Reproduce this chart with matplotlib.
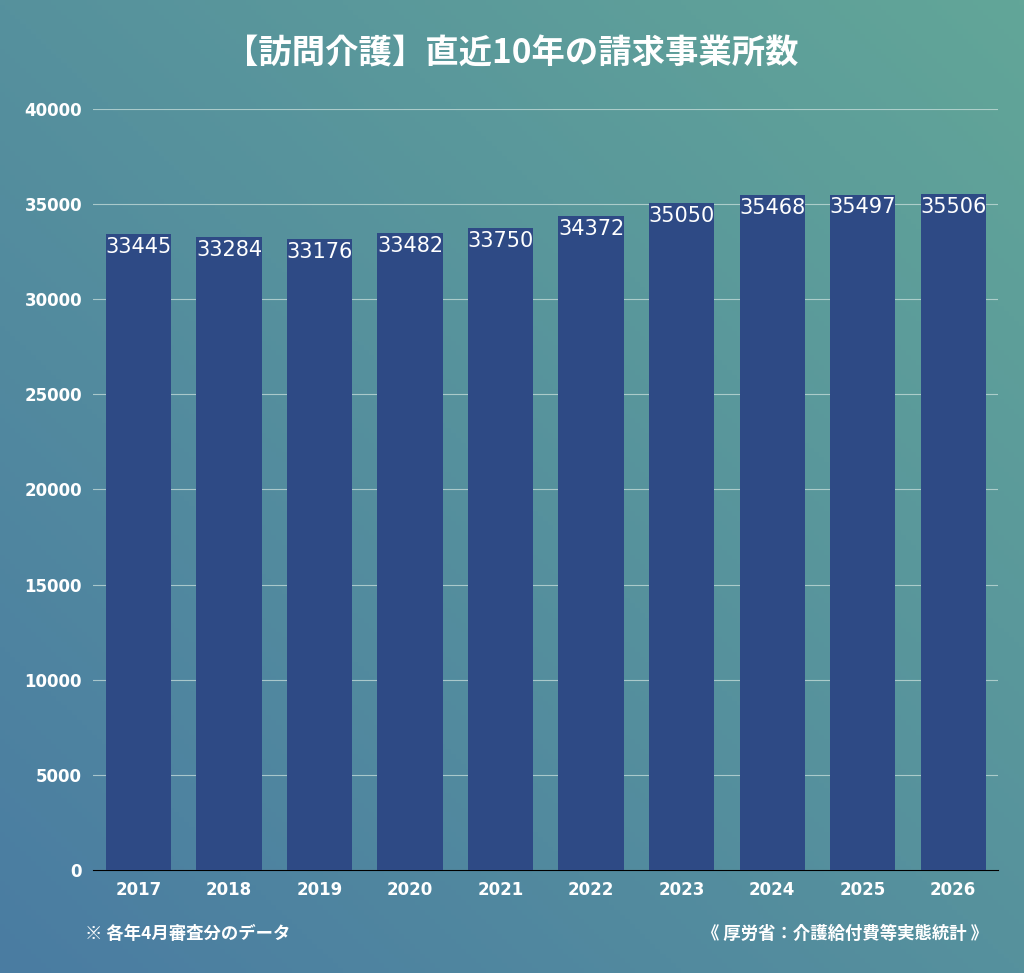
import numpy as np
import matplotlib.pyplot as plt

plt.rcParams['font.family'] = ['Noto Sans CJK JP', 'DejaVu Sans']

years = ['2017', '2018', '2019', '2020', '2021', '2022', '2023', '2024', '2025', '2026']
counts = [33445, 33284, 33176, 33482, 33750, 34372, 35050, 35468, 35497, 35506]
yticks = [0, 5000, 10000, 15000, 20000, 25000, 30000, 35000, 40000]

fig = plt.figure(figsize=(10.24, 9.73), dpi=100)

# gradient background: bluish bottom-left -> teal top-right
bg = fig.add_axes([0, 0, 1, 1], zorder=-10)
gx, gy = np.meshgrid(np.linspace(0, 1, 200), np.linspace(0, 1, 200))
t = ((1 - gx) + gy) / 2
c1 = np.array([0x62, 0xa6, 0x98]) / 255
c2 = np.array([0x4a, 0x7c, 0xa2]) / 255
img = c1[None, None, :] * (1 - t[..., None]) + c2[None, None, :] * t[..., None]
bg.imshow(img, aspect='auto', extent=[0, 1, 0, 1])
bg.axis('off')

ax = fig.add_axes([0.091, 0.106, 0.884, 0.782])
ax.patch.set_alpha(0)
x = np.arange(len(years))
ax.bar(x, counts, width=0.72, color='#2e4a85', zorder=3)
for xi, v in zip(x, counts):
    ax.text(xi, v - 150, str(v), ha='center', va='top', color='white',
            fontsize=15, zorder=4, family='DejaVu Sans')

ax.set_xlim(-0.5, len(years) - 0.5)
ax.set_ylim(0, 40000)
ax.set_yticks(yticks)
ax.set_yticklabels([str(v) for v in yticks])
ax.set_xticks(x)
ax.set_xticklabels(years)
ax.tick_params(length=0, colors='white', labelsize=12, pad=8)
for lab in ax.get_xticklabels() + ax.get_yticklabels():
    lab.set_fontweight('bold')
    lab.set_family('DejaVu Sans')
ax.yaxis.grid(True, color='#cfe3df', linewidth=0.8, alpha=0.7, zorder=0)
for s in ['top', 'right', 'left']:
    ax.spines[s].set_visible(False)
ax.spines['bottom'].set_color('black')

fig.text(0.5, 0.945, '【訪問介護】直近10年の請求事業所数', ha='center', va='center',
         color='white', fontsize=24, fontweight='bold')
fig.text(0.083, 0.04, '※ 各年4月審査分のデータ', ha='left', va='center',
         color='white', fontsize=12.5, fontweight='bold')
fig.text(0.965, 0.04, '《 厚労省：介護給付費等実態統計 》', ha='right', va='center',
         color='white', fontsize=12.5, fontweight='bold')

fig.savefig('out.png', dpi=100)
